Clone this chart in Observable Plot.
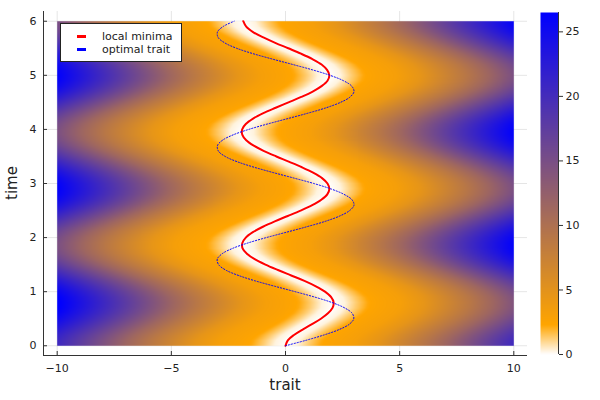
<!DOCTYPE html>
<html>
<head>
<meta charset="utf-8">
<script src="https://cdn.jsdelivr.net/npm/d3@7"></script>
<script src="https://cdn.jsdelivr.net/npm/@observablehq/plot@0.6"></script>
<style>
  body { margin: 0; background: #fff; font-family: "DejaVu Sans", sans-serif; }
  #wrap { position: relative; width: 600px; height: 400px; overflow: hidden; }
  #wrap svg { position: absolute; top: 0; }
  .axlabel { position: absolute; font-size: 15px; color: #222; white-space: nowrap; }
  .legend { position: absolute; left: 60px; top: 23px; width: 120px; height: 37px; border: 1px solid #222; background: #fff; font-size: 11px; color: #222; }
  .legend .row { position: absolute; left: 0; height: 13px; line-height: 13px; }
  .legend .sw { position: absolute; left: 16px; top: 5px; width: 9px; height: 3px; }
  .legend .tx { position: absolute; left: 41px; top: 0; white-space: nowrap; }
</style>
</head>
<body>
<div id="wrap"></div>
<script>
// ---- data ----
const times = [0,0.1,0.2,0.3,0.4,0.5,0.6,0.7,0.8,0.9,1.0,1.1,1.2,1.3,1.4,1.5,1.6,1.7,1.8,1.9,2.0,2.1,2.2,2.3,2.4,2.5,2.6,2.7,2.8,2.9,3.0,3.1,3.2,3.3,3.4,3.5,3.6,3.7,3.8,3.9,4.0,4.1,4.2,4.3,4.4,4.5,4.6,4.7,4.8,4.9,5.0,5.1,5.2,5.3,5.4,5.5,5.6,5.7,5.8,5.9,6.0];
const optimalTrait = [0,0.89,1.69,2.35,2.80,2.99,2.92,2.59,2.03,1.28,0.42,-0.47,-1.33,-2.06,-2.62,-2.93,-2.99,-2.78,-2.32,-1.65,-0.84,0.05,0.93,1.74,2.38,2.81,3.00,2.91,2.56,1.99,1.24,0.37,-0.52,-1.37,-2.10,-2.64,-2.94,-2.98,-2.76,-2.29,-1.61,-0.79,0.10,0.98,1.78,2.41,2.83,3.00,2.90,2.54,1.95,1.19,0.32,-0.57,-1.42,-2.14,-2.66,-2.95,-2.98,-2.74,-2.25];
const localMinima = [0,0.10,0.37,0.75,1.16,1.55,1.86,2.06,2.11,2.00,1.73,1.33,0.83,0.25,-0.33,-0.88,-1.35,-1.69,-1.88,-1.89,-1.74,-1.43,-0.99,-0.47,0.10,0.66,1.17,1.57,1.83,1.92,1.84,1.60,1.21,0.72,0.17,-0.40,-0.94,-1.39,-1.72,-1.89,-1.90,-1.74,-1.42,-0.97,-0.43,0.13,0.69,1.19,1.58,1.84,1.92,1.82,1.58,1.18,0.68,0.12,-0.45,-0.97,-1.42,-1.72,-1.85];
// landscape value versus horizontal distance from the local-minimum curve
const distanceFromMinimum = [0,0.5,1,1.5,2,3,4,5,6,7,8,9,10,11,12,13];
const landscapeValue = [0,0.3,1.3,2.2,2.6,3.2,4.6,6.8,9.0,11.5,14.5,17.5,20.5,23.5,26.5,29.5];
const traitExtent = [-10, 10];
const timeExtent = [0, 6];
const xTicks = [-10, -5, 0, 5, 10];
const yTicks = [0, 1, 2, 3, 4, 5, 6];
const colorTicks = [0, 5, 10, 15, 20, 25];
const colorStops = [0, 2.3, 26.5];
const colorRange = ["#ffffff", "#ffa500", "#0000ff"];
const seriesNames = ["local minima", "optimal trait"];
const seriesColors = ["red", "blue"];

// ---- build ----
const rows = times.map((t, i) => ({t, minimum: localMinima[i], optimal: optimalTrait[i]}));
const minAt = d3.scaleLinear(times, localMinima);
const landscape = d3.scaleLinear(distanceFromMinimum, landscapeValue);
const colorOpts = {type: "linear", domain: colorStops, range: colorRange, interpolate: "rgb"};
const xDom = [-10.6, 10.6], yDom = [-0.18, 6.18];
const fmt = d => d < 0 ? "\u2212" + (-d) : String(d);
const baseStyle = {fontFamily: "DejaVu Sans, sans-serif", fontSize: "11px", color: "#222", background: "transparent", overflow: "visible"};

const W = 600, H = 400, mL = 43, mR = 73, mT = 11, mB = 45;
const main = Plot.plot({
  width: W, height: H, marginLeft: mL, marginRight: mR, marginTop: mT, marginBottom: mB,
  style: baseStyle,
  x: {domain: xDom}, y: {domain: yDom}, color: colorOpts,
  marks: [
    Plot.gridX(xTicks, {stroke: "#000", strokeOpacity: 0.1}),
    Plot.gridY(yTicks, {stroke: "#000", strokeOpacity: 0.1}),
    Plot.raster({x1: traitExtent[0], x2: traitExtent[1], y1: timeExtent[0], y2: timeExtent[1],
      fill: (x, y) => landscape(Math.abs(x - minAt(y))), pixelSize: 1}),
    Plot.line(rows, {x: "minimum", y: "t", stroke: seriesColors[0], strokeWidth: 2, curve: "catmull-rom"}),
    Plot.line(rows, {x: "optimal", y: "t", stroke: seriesColors[1], strokeWidth: 1, strokeDasharray: "1.2,1.8", curve: "catmull-rom"}),
    Plot.ruleX([xDom[0]], {stroke: "#333", strokeWidth: 1}),
    Plot.ruleY([yDom[0]], {stroke: "#333", strokeWidth: 1}),
    Plot.tickX(xTicks, {x: d => d, insetTop: (H - mT - mB) - 4, stroke: "#333"}),
    Plot.tickY(yTicks, {y: d => d, insetRight: (W - mL - mR) - 4, stroke: "#333"}),
    Plot.axisX(xTicks, {tickSize: 0, tickPadding: 9, label: null, tickFormat: fmt, fill: "#222"}),
    Plot.axisY(yTicks, {tickSize: 0, tickPadding: 7, label: null, tickFormat: fmt, fill: "#222"})
  ]
});
main.style.left = "0px";

const bar = Plot.plot({
  width: 80, height: H, marginLeft: 20, marginRight: 42, marginTop: 12, marginBottom: 46,
  style: baseStyle,
  x: {domain: [0, 1], axis: null}, y: {domain: [colorStops[0], colorStops[2]]}, color: colorOpts,
  marks: [
    Plot.raster({x1: 0, x2: 1, y1: colorStops[0], y2: colorStops[2], fill: (x, y) => y, pixelSize: 1}),
    Plot.ruleX([1], {stroke: "#333"}),
    Plot.axisY(colorTicks, {anchor: "right", tickSize: 4, tickPadding: 3, label: null, stroke: "#333", fill: "#222"})
  ]
});
bar.style.left = "520px";

const wrap = document.getElementById("wrap");
wrap.appendChild(main);
wrap.appendChild(bar);

const xl = document.createElement("div");
xl.className = "axlabel"; xl.textContent = "trait";
xl.style.left = "285px"; xl.style.top = "385px"; xl.style.transform = "translate(-50%,-50%)";
wrap.appendChild(xl);
const yl = document.createElement("div");
yl.className = "axlabel"; yl.textContent = "time";
yl.style.left = "12px"; yl.style.top = "183px"; yl.style.transform = "translate(-50%,-50%) rotate(-90deg)";
wrap.appendChild(yl);

const lg = document.createElement("div");
lg.className = "legend";
seriesNames.forEach((name, i) => {
  const r = document.createElement("div");
  r.className = "row"; r.style.top = (6 + i * 13) + "px"; r.style.width = "100%";
  const sw = document.createElement("div"); sw.className = "sw"; sw.style.background = seriesColors[i];
  const tx = document.createElement("div"); tx.className = "tx"; tx.textContent = name;
  r.appendChild(sw); r.appendChild(tx); lg.appendChild(r);
});
wrap.appendChild(lg);
</script>
</body>
</html>
